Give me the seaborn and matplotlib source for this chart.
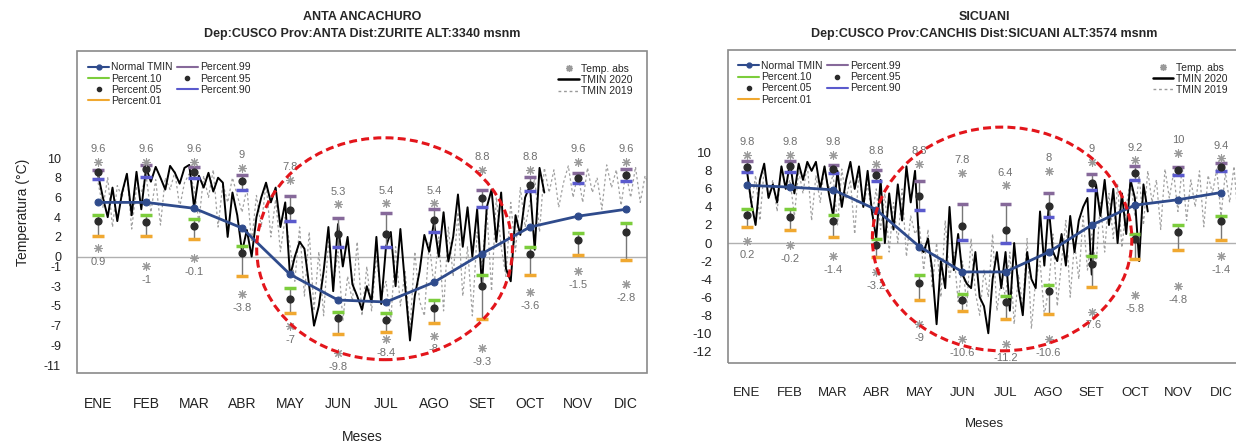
import numpy as np
import matplotlib
matplotlib.use("Agg")
import matplotlib.pyplot as plt
import seaborn as sns
from matplotlib.lines import Line2D
from matplotlib.patches import Ellipse, Rectangle

# style
sns.set_style("white")
plt.rcParams["font.family"] = ["Liberation Sans", "DejaVu Sans"]

# =============================================================================
# Data
# =============================================================================

months = ["ENE", "FEB", "MAR", "ABR", "MAY", "JUN", "JUL", "AGO", "SET", "OCT", "NOV", "DIC"]

# ---- ANTA ANCACHURO ----
ant_normal = [5.5, 5.5, 4.9, 2.9, -1.8, -4.4, -4.6, -2.6, 0.3, 3.0, 4.1, 4.8]
ant_p99 = [8.8, 9.3, 9.1, 8.3, 6.1, 3.9, 4.4, 4.8, 6.8, 8.1, 8.5, 8.9]
ant_p95 = [8.6, 8.9, 8.6, 7.7, 4.7, 2.3, 2.3, 3.7, 5.9, 7.3, 8.0, 8.3]
ant_p90 = [7.9, 8.1, 8.0, 6.8, 3.6, 1.0, 1.0, 2.5, 5.0, 6.7, 7.5, 7.7]
ant_p10 = [4.2, 4.2, 3.8, 1.1, -3.2, -5.6, -5.7, -4.4, -1.9, 1.0, 2.4, 3.4]
ant_p05 = [3.6, 3.5, 3.1, 0.4, -4.3, -6.2, -6.4, -5.2, -3.0, 0.3, 1.7, 2.5]
ant_p01 = [2.1, 2.1, 1.8, -2.0, -5.7, -7.8, -7.6, -6.7, -6.3, -1.9, 0.2, -0.3]
ant_absmax = [9.6, 9.6, 9.6, 9, 7.8, 5.3, 5.4, 5.4, 8.8, 8.8, 9.6, 9.6]
ant_absmin = [0.9, -1, -0.1, -3.8, -7, -9.8, -8.4, -8, -9.3, -3.6, -1.5, -2.8]

# daily minimum temperature, one value every ~3 days (10 per month)
ant_t2020 = [
    8.3, 6.0, 4.0, 7.0, 3.6, 6.5, 8.4, 4.2, 8.6, 4.8,
    9.0, 7.6, 9.1, 8.0, 6.8, 9.2, 8.5, 7.4, 9.0, 9.3,
    5.0, 8.2, 7.0, 8.5, 6.6, 8.0, 7.5, 2.0, 6.5, 4.2,
    0.5, 2.7, 0.0, 4.0, 6.0, 7.5, 5.5, 7.0, 3.0, 5.5,
    -2.0, 0.0, 1.5, 0.8, -3.0, -7.0, -5.0, -1.5, 3.0, -3.5,
    3.3, -1.0, 2.0, -2.8, -4.0, -5.4, -3.0, -4.6, 2.0, -4.8,
    1.0, 2.5, -3.0, 2.8, -3.0, -8.5, -4.0, -1.5, 2.2, 0.5,
    3.5, 0.0, 4.5, -0.5, 2.0, 6.3, 1.0, 5.0, 0.0, 4.8,
    -3.0, 5.0, 6.8, 1.5, 6.5, -1.2, -2.5, 4.2, 2.2, 6.0,
    7.2, 0.7, 9.0, 6.5,
]
ant_t2019 = [
    7.5, 5.0, 8.0, 3.0, 7.2, 6.0, 8.5, 2.8, 7.0, 6.5,
    8.2, 4.5, 7.8, 3.2, 8.0, 6.8, 8.6, 5.0, 7.5, 8.4,
    7.0, 3.5, 8.2, 6.0, 8.8, 3.0, 7.4, 5.5, 8.0, 6.2,
    4.5, 7.0, 1.5, 6.2, 3.0, 7.5, 2.0, 5.8, 0.5, 4.0,
    1.0, -2.5, 3.0, -4.0, 2.5, -5.5, 0.5, -6.0, 1.5, -3.0,
    0.5, -6.5, -2.0, -4.5, 1.5, -6.0, -1.0, -5.5, 0.0, -4.0,
    -2.5, -6.5, 1.0, -5.0, -1.5, -7.5, 0.5, -4.5, -6.0, 1.5,
    -3.0, 2.0, -5.5, 3.0, -2.0, 4.5, -4.0, 1.0, -6.0, 2.5,
    -1.0, 5.0, -3.5, 6.0, 1.0, -2.0, 5.5, 0.5, 7.0, 3.0,
    5.5, 8.0, 2.5, 9.0, 6.5, 8.8, 5.0, 7.5, 9.2, 6.0,
    8.5, 5.5, 9.0, 6.5, 8.0, 4.8, 9.3, 7.0, 8.8, 5.2,
    8.6, 6.0, 9.1, 5.5, 8.2, 7.0, 9.0, 5.8, 8.5, 6.8,
]

# ---- SICUANI ----
sic_normal = [6.4, 6.2, 5.9, 3.7, -0.4, -3.2, -3.2, -1.0, 2.0, 4.2, 4.8, 5.6]
sic_p99 = [9.1, 9.1, 8.7, 8.1, 6.9, 4.3, 4.3, 5.6, 7.7, 8.5, 8.4, 8.9]
sic_p95 = [8.4, 8.5, 8.2, 7.5, 5.2, 1.9, 1.5, 4.1, 6.6, 7.8, 8.1, 8.4]
sic_p90 = [7.9, 7.9, 7.8, 6.9, 3.7, 0.3, 0.0, 2.9, 5.9, 7.0, 7.5, 8.0]
sic_p10 = [3.8, 3.8, 3.1, 0.5, -3.5, -5.6, -5.9, -4.6, -1.4, 1.0, 2.0, 3.05]
sic_p05 = [3.1, 2.9, 2.4, -0.2, -4.4, -6.3, -6.5, -5.3, -2.3, 0.5, 1.2, 2.4]
sic_p01 = [1.8, 1.5, 0.65, -1.6, -6.3, -7.5, -8.4, -7.9, -4.9, -1.8, -0.75, 0.3]
sic_absmax = [9.8, 9.8, 9.8, 8.8, 8.8, 7.8, 6.4, 8, 9, 9.2, 10, 9.4]
sic_absmin = [0.2, -0.2, -1.4, -3.2, -9, -10.6, -11.2, -10.6, -7.6, -5.8, -4.8, -1.4]

sic_t2020 = [
    8.0, 4.5, 2.0, 7.0, 8.8, 5.0, 6.5, 4.5, 8.5, 6.0,
    9.0, 5.5, 8.8, 7.0, 9.0, 8.0, 9.0, 6.0, 8.5, 5.5,
    3.0, 8.0, 4.0, 7.0, 9.0, 6.0, 8.5, 4.0, 8.0, 3.5,
    0.5, 7.0, 0.0, 5.5, 1.5, 6.5, 2.5, 8.5, 4.5, 8.0,
    -0.5, -1.0, 0.5, -3.0, -9.0, -2.0, -5.0, 4.0, -3.0, 1.0,
    -3.5, -4.5, -5.0, -1.0, -6.0, -7.0, -10.0, -4.0, -1.0, -5.0,
    -1.0, -7.5, 0.0, -5.0, -8.0, -1.0, -4.0, -5.0, 3.5, -2.5,
    4.0, -1.0, -2.0, 1.0, -2.5, 3.0, -1.0, 2.5, 4.0, 5.0,
    -3.5, 6.5, 3.0, 7.0, 2.0, 6.0, 0.0, 5.5, 1.0, 7.0,
    5.0, -2.0, 6.5, 3.5,
]
sic_t2019 = [
    8.0, 4.0, 7.5, 2.5, 8.2, 5.0, 7.0, 3.5, 8.5, 6.0,
    7.0, 3.0, 8.0, 5.5, 8.8, 2.5, 7.5, 4.5, 8.4, 6.0,
    7.6, 2.0, 8.2, 5.0, 7.0, 1.0, 8.0, 4.0, 6.5, 3.0,
    6.0, 1.5, 5.5, -1.0, 4.5, 0.0, 6.0, -1.5, 3.0, 1.0,
    2.0, -3.0, 1.5, -5.0, 0.0, -6.0, 2.5, -4.0, -1.0, -6.5,
    -2.0, -7.0, 0.5, -5.5, -8.0, -3.0, -6.0, 1.0, -7.5, -4.0,
    -6.0, -1.0, -9.0, -3.5, -7.0, 0.5, -9.5, -4.0, -2.0, -8.0,
    -5.0, 1.0, -7.0, -2.0, 2.5, -6.0, 0.0, -4.0, 3.0, -3.0,
    1.0, -2.5, 4.5, -1.0, 5.5, 0.5, 6.5, -0.5, 4.0, 7.0,
    3.0, 7.5, 2.0, 8.0, 4.5, 7.0, 1.5, 8.2, 5.0, 7.8,
    3.5, 8.5, 2.5, 7.0, 4.0, 8.0, 1.8, 7.5, 5.5, 8.2,
    3.0, 7.8, 4.5, 8.5, 2.5, 7.0, 5.0, 8.3, 3.5, 7.5,
]

# colours
c_normal = "#2f4b8c"
c_p99 = "#86699a"
c_p90 = "#5a5acd"
c_p10 = "#7ccd3c"
c_p01 = "#f0a830"
c_dot = "#2b2b2b"
c_star = "#9a9a9a"
c_frame = "#8a8a8a"


# =============================================================================
# Drawing function
# =============================================================================

def draw_station(ax, t2020, t2019, normal, p99, p95, p90, p10, p05, p01,
                 absmax, absmin, yticks, ylim, circle, fs, yfs):
    x_m = np.arange(1, 13)
    x20 = 1 + np.arange(len(t2020)) / 10
    x19 = 1 + np.arange(len(t2019)) / 10

    ax.axhline(0, color="#b0b0b0", lw=1, zorder=1)

    # daily series
    sns.lineplot(x=x19, y=t2019, ax=ax, color="#a0a0a0", lw=0.9,
                 linestyle=(0, (2, 2)), zorder=2)
    sns.lineplot(x=x20, y=t2020, ax=ax, color="black", lw=1.4, zorder=3)

    # normal
    sns.lineplot(x=x_m, y=normal, ax=ax, color=c_normal, lw=2, marker="o",
                 markersize=5, markeredgecolor=c_normal, zorder=4)

    # percentiles
    ax.vlines(x_m, p90, p99, color="#777777", lw=1, zorder=5)
    ax.vlines(x_m, p01, p10, color="#777777", lw=1, zorder=5)
    w = 0.13
    for vals, col in [(p99, c_p99), (p90, c_p90), (p10, c_p10), (p01, c_p01)]:
        ax.hlines(vals, x_m - w, x_m + w, color=col, lw=2.5, zorder=6)
    ax.scatter(x_m, p95, s=24, color=c_dot, zorder=7)
    ax.scatter(x_m, p05, s=24, color=c_dot, zorder=7)

    # absolute temperatures
    ax.scatter(x_m, absmax, marker=(8, 2, 0), s=30, color=c_star, lw=0.8, zorder=7)
    ax.scatter(x_m, absmin, marker=(8, 2, 0), s=30, color=c_star, lw=0.8, zorder=7)
    for xm, v in zip(x_m, absmax):
        ax.annotate(f"{v:g}", (xm, v), xytext=(0, 9), textcoords="offset points",
                    ha="center", va="center", fontsize=8, color="#707070")
    for xm, v in zip(x_m, absmin):
        ax.annotate(f"{v:g}", (xm, v), xytext=(0, -10), textcoords="offset points",
                    ha="center", va="center", fontsize=8, color="#707070")

    # red dashed circle
    ax.add_patch(Ellipse(circle[:2], circle[2], circle[3], fill=False,
                         ec="#e3151b", lw=2.2, ls=(0, (2.6, 1.4)), zorder=10))

    # axes, R style
    ax.set_xlim(0.56, 12.44)
    ax.set_ylim(*ylim)
    ax.set_xticks(x_m)
    ax.set_xticklabels(months)
    ax.set_yticks(yticks)
    ax.set_yticklabels([f"{t:g}" for t in yticks])
    for s in ax.spines.values():
        s.set_visible(False)
    ax.spines["bottom"].set_position(("outward", 4))
    ax.spines["left"].set_position(("outward", 2))
    ax.add_patch(Rectangle((0, 0), 1, 1, transform=ax.transAxes, fill=False,
                           ec=c_frame, lw=1.2, clip_on=False, zorder=11))
    ax.tick_params(axis="both", direction="out", length=6, width=1,
                   color="#777777", labelcolor="#222222")
    ax.tick_params(axis="x", pad=7, labelsize=fs)
    ax.tick_params(axis="y", labelsize=yfs)
    ax.set_xlabel("Meses", fontsize=fs, labelpad=14, color="#222222")
    ax.set_ylabel("")

    # legends
    h1 = [
        Line2D([], [], color=c_normal, lw=1.5, marker="o", ms=3.5),
        Line2D([], [], color=c_p10, lw=1.5),
        Line2D([], [], color=c_dot, ls="", marker="o", ms=3),
        Line2D([], [], color=c_p01, lw=1.5),
        Line2D([], [], color=c_p99, lw=1.5),
        Line2D([], [], color=c_dot, ls="", marker="o", ms=3),
        Line2D([], [], color=c_p90, lw=1.5),
    ]
    l1 = ["Normal TMIN", "Percent.10", "Percent.05", "Percent.01",
          "Percent.99", "Percent.95", "Percent.90"]
    leg1 = ax.legend(h1, l1, loc="upper left", ncol=2, frameon=False, fontsize=7.5,
                     bbox_to_anchor=(0.02, 0.965), borderaxespad=0, borderpad=0,
                     handlelength=2, handletextpad=0.2, labelspacing=0.12,
                     columnspacing=0.4)
    ax.add_artist(leg1)
    h2 = [
        Line2D([], [], color=c_star, ls="", marker=(8, 2, 0), ms=5),
        Line2D([], [], color="black", lw=1.8),
        Line2D([], [], color="#9a9a9a", lw=1, ls=(0, (2, 2))),
    ]
    l2 = ["Temp. abs", "TMIN 2020", "TMIN 2019"]
    ax.legend(h2, l2, loc="upper right", frameon=False, fontsize=7.5,
              bbox_to_anchor=(0.975, 0.96), borderaxespad=0, borderpad=0,
              handlelength=2, handletextpad=0.2, labelspacing=0.12)


# =============================================================================
# Figure
# =============================================================================

fig = plt.figure(figsize=(12.36, 4.43), dpi=100)
ax1 = fig.add_axes([77 / 1236, 70 / 443, 570 / 1236, 322 / 443])
ax2 = fig.add_axes([728 / 1236, 80 / 443, 512 / 1236, 313 / 443])

draw_station(ax1, ant_t2020, ant_t2019, ant_normal, ant_p99, ant_p95, ant_p90,
             ant_p10, ant_p05, ant_p01, ant_absmax, ant_absmin,
             [10, 8, 6, 4, 2, 0, -1, -3, -5, -7, -9, -11], (-11.8, 20.85),
             (6.97, 0.8, 5.33, 22.5), 10, 9)
draw_station(ax2, sic_t2020, sic_t2019, sic_normal, sic_p99, sic_p95, sic_p90,
             sic_p10, sic_p05, sic_p01, sic_absmax, sic_absmin,
             list(range(10, -13, -2)), (-13.3, 21.4),
             (6.92, 0.45, 6.02, 24.8), 9.5, 9.5)

ax1.set_ylabel("Temperatura (°C)", fontsize=10, labelpad=10, color="#222222")

# titles
fig.text(362 / 1236, 1 - 17 / 443, "ANTA ANCACHURO", ha="center", va="center",
         fontsize=9, fontweight="bold")
fig.text(362 / 1236, 1 - 34 / 443, "Dep:CUSCO Prov:ANTA Dist:ZURITE ALT:3340 msnm",
         ha="center", va="center", fontsize=9, fontweight="bold")
fig.text(984 / 1236, 1 - 17 / 443, "SICUANI", ha="center", va="center",
         fontsize=9, fontweight="bold")
fig.text(984 / 1236, 1 - 34 / 443, "Dep:CUSCO Prov:CANCHIS Dist:SICUANI ALT:3574 msnm",
         ha="center", va="center", fontsize=9, fontweight="bold")

plt.savefig("out.png", dpi=100)
